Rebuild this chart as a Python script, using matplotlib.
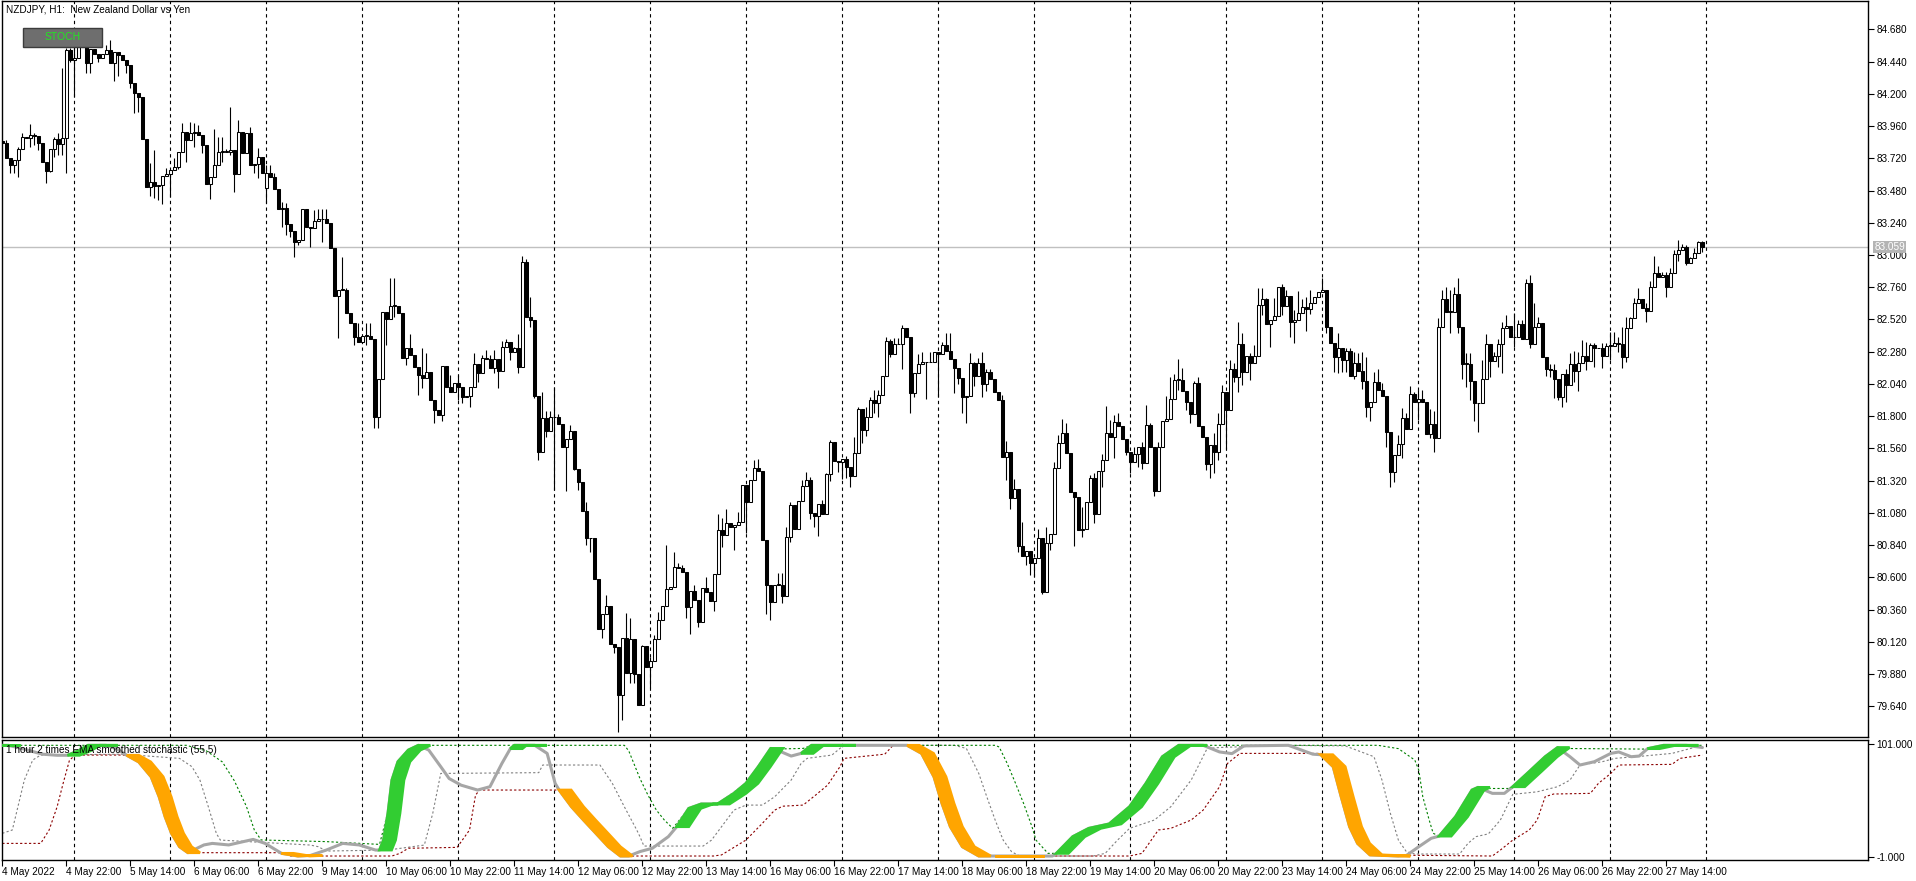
import numpy as np
import matplotlib
matplotlib.use("Agg")
import matplotlib.pyplot as plt
from matplotlib.patches import Rectangle, Polygon

W, H = 1916, 881

# ---- NZDJPY H1 closes, bar 0 = 4 May 06:00 ... bar 425 = 27 May 23:00 ----
close = [
    83.831, 83.725, 83.670, 83.707, 83.789, 83.876, 83.869, 83.896, 83.886, 83.831,
    83.695, 83.628, 83.787, 83.864, 83.824, 83.869, 84.526, 84.452, 84.464, 84.551,
    84.551, 84.427, 84.534, 84.496, 84.469, 84.496, 84.526, 84.427, 84.514, 84.489,
    84.452, 84.415, 84.278, 84.204, 84.174, 83.861, 83.509, 83.546, 83.514, 83.521,
    83.591, 83.601, 83.633, 83.658, 83.769, 83.918, 83.856, 83.906, 83.918, 83.893,
    83.819, 83.529, 83.583, 83.670, 83.769, 83.769, 83.769, 83.782, 83.603, 83.913,
    83.762, 83.906, 83.670, 83.678, 83.732, 83.608, 83.608, 83.583, 83.494, 83.343,
    83.352, 83.228, 83.179, 83.099, 83.112, 83.343, 83.211, 83.204, 83.256, 83.266,
    83.271, 83.236, 83.050, 82.697, 82.740, 82.740, 82.571, 82.491, 82.392, 82.355,
    82.397, 82.397, 82.372, 81.797, 82.075, 82.578, 82.521, 82.620, 82.620, 82.571,
    82.231, 82.305, 82.256, 82.169, 82.107, 82.082, 82.132, 81.921, 81.846, 81.809,
    82.174, 82.020, 81.982, 82.045, 82.020, 81.940, 81.950, 82.020, 82.186, 82.119,
    82.231, 82.228, 82.161, 82.226, 82.139, 82.317, 82.350, 82.280, 82.305, 82.164,
    82.950, 82.541, 82.516, 81.953, 81.531, 81.784, 81.692, 81.791, 81.796, 81.739,
    81.568, 81.630, 81.692, 81.409, 81.308, 81.092, 80.891, 80.896, 80.585, 80.213,
    80.325, 80.387, 80.104, 80.079, 79.722, 80.151, 79.886, 80.139, 79.881, 79.648,
    80.089, 79.935, 79.978, 80.139, 80.283, 80.387, 80.511, 80.526, 80.675, 80.672,
    80.638, 80.382, 80.499, 80.432, 80.270, 80.518, 80.494, 80.424, 80.623, 80.953,
    80.916, 81.007, 80.978, 80.990, 81.015, 81.288, 81.164, 81.325, 81.417, 81.392,
    80.878, 80.543, 80.419, 80.543, 80.543, 80.464, 80.898, 81.139, 80.960, 81.169,
    81.280, 81.325, 81.082, 81.059, 81.144, 81.074, 81.370, 81.610, 81.469, 81.461,
    81.479, 81.424, 81.357, 81.523, 81.853, 81.697, 81.796, 81.920, 81.896, 81.958,
    82.099, 82.360, 82.263, 82.335, 82.337, 82.454, 82.387, 81.970, 82.124, 82.188,
    82.206, 82.201, 82.206, 82.275, 82.260, 82.330, 82.288, 82.226, 82.156, 82.087,
    81.945, 81.950, 82.193, 82.099, 82.193, 82.040, 82.131, 82.077, 81.978, 81.920,
    81.499, 81.531, 81.193, 81.255, 80.836, 80.762, 80.796, 80.705, 80.742, 80.891,
    80.489, 80.853, 80.920, 81.417, 81.598, 81.672, 81.523, 81.238, 81.196, 80.953,
    80.958, 81.164, 81.342, 81.069, 81.394, 81.474, 81.672, 81.647, 81.754, 81.727,
    81.628, 81.536, 81.461, 81.518, 81.568, 81.449, 81.734, 81.568, 81.245, 81.568,
    81.764, 81.777, 81.925, 82.069, 82.069, 81.990, 81.908, 81.814, 82.044, 81.729,
    81.647, 81.442, 81.585, 81.531, 81.739, 81.982, 81.846, 82.149, 82.094, 82.335,
    82.131, 82.248, 82.193, 82.248, 82.628, 82.670, 82.486, 82.516, 82.546, 82.759,
    82.623, 82.695, 82.504, 82.516, 82.571, 82.610, 82.595, 82.640, 82.690, 82.722,
    82.739, 82.466, 82.342, 82.238, 82.310, 82.218, 82.285, 82.101, 82.193, 82.139,
    82.064, 81.866, 81.908, 82.052, 81.995, 81.950, 81.685, 81.382, 81.511, 81.593,
    81.784, 81.705, 81.963, 81.908, 81.925, 81.908, 81.665, 81.742, 81.635, 82.466,
    82.670, 82.578, 82.578, 82.710, 82.461, 82.188, 82.188, 82.064, 81.896, 81.896,
    82.074, 82.335, 82.213, 82.248, 82.335, 82.454, 82.471, 82.387, 82.392, 82.484,
    82.372, 82.789, 82.337, 82.466, 82.491, 82.238, 82.149, 82.144, 82.074, 81.940,
    82.114, 82.032, 82.188, 82.139, 82.198, 82.248, 82.213, 82.330, 82.310, 82.305,
    82.248, 82.322, 82.322, 82.347, 82.337, 82.243, 82.454, 82.528, 82.640, 82.670,
    82.603, 82.585, 82.759, 82.863, 82.834, 82.851, 82.759, 82.863, 83.005, 83.037,
    83.062, 82.943, 82.975, 83.017, 83.094, 83.059,
]
# opens differ from the previous close only here
open_gap = {0: 83.850, 66: 83.496}

# visible wick tips (bar -> price)
wick_hi = {
    0: 83.856, 1: 83.856, 4: 83.802, 5: 83.906, 7: 83.975, 8: 83.906, 13: 83.876, 14: 83.906,
    15: 84.390, 16: 84.539, 17: 84.539, 18: 84.576, 19: 84.601, 26: 84.563, 27: 84.601,
    37: 83.682, 38: 83.782, 41: 83.645, 43: 83.720, 45: 83.980, 47: 83.993, 48: 83.980,
    49: 83.968, 53: 83.935, 54: 83.876, 55: 83.876, 56: 83.789, 57: 84.104, 59: 84.005,
    62: 83.955, 64: 83.794, 66: 83.670, 67: 83.670, 68: 83.613, 70: 83.392, 71: 83.387,
    78: 83.335, 79: 83.343, 80: 83.343, 81: 83.343, 85: 82.983, 86: 82.752, 89: 82.491,
    91: 82.491, 92: 82.491, 97: 82.826, 98: 82.826, 102: 82.412, 105: 82.305, 106: 82.273,
    112: 82.106, 114: 82.106, 118: 82.268, 120: 82.255, 121: 82.293, 122: 82.255, 123: 82.293,
    125: 82.362, 126: 82.372, 128: 82.317, 129: 82.409, 130: 82.992, 131: 82.968, 132: 82.685,
    135: 81.982, 136: 81.841, 137: 81.841, 138: 82.020, 139: 81.814, 142: 81.734, 146: 81.164,
    151: 80.469, 156: 80.337, 157: 80.295, 160: 80.097, 162: 80.010, 163: 80.171, 164: 80.345,
    166: 80.841, 168: 80.791, 169: 80.704, 170: 80.692, 173: 80.543, 176: 80.605, 179: 81.072,
    180: 81.039, 181: 81.106, 184: 81.089, 188: 81.474, 189: 81.479, 194: 80.630, 195: 80.635,
    196: 80.977, 197: 81.164, 200: 81.325, 201: 81.387, 202: 81.345, 205: 81.176, 206: 81.379,
    207: 81.623, 211: 81.503, 213: 81.647, 214: 81.871, 216: 81.871, 217: 81.940, 218: 81.995,
    219: 81.995, 221: 82.387, 222: 82.372, 223: 82.379, 224: 82.384, 225: 82.479, 229: 82.260,
    230: 82.275, 232: 82.280, 233: 82.280, 235: 82.355, 236: 82.417, 237: 82.417, 242: 82.268,
    243: 82.206, 244: 82.231, 245: 82.280, 246: 82.151, 247: 82.151, 250: 81.957, 251: 81.615,
    253: 81.332, 255: 81.015, 259: 80.958, 261: 80.977, 263: 81.456, 264: 81.660, 265: 81.779,
    266: 81.747, 270: 81.121, 272: 81.362, 273: 81.374, 275: 81.518, 276: 81.876, 277: 81.772,
    278: 81.809, 279: 81.821, 283: 81.573, 285: 81.605, 286: 81.883, 287: 81.747, 289: 81.610,
    291: 81.953, 292: 82.094, 293: 82.114, 294: 82.226, 295: 82.156, 298: 82.064, 299: 82.094,
    303: 81.677, 304: 81.826, 305: 82.032, 307: 82.218, 308: 82.193, 309: 82.503, 310: 82.417,
    312: 82.268, 313: 82.330, 314: 82.757, 315: 82.752, 316: 82.677, 318: 82.677, 319: 82.764,
    320: 82.781, 321: 82.739, 323: 82.590, 324: 82.732, 325: 82.670, 326: 82.690, 327: 82.739,
    330: 82.826, 334: 82.417, 336: 82.305, 337: 82.305, 338: 82.280, 339: 82.268, 340: 82.275,
    341: 82.243, 343: 82.131, 344: 82.151, 345: 82.049, 349: 81.660, 350: 81.858, 351: 81.821,
    352: 82.025, 353: 81.982, 354: 81.995, 355: 81.995, 356: 81.851, 357: 81.851, 358: 81.841,
    359: 82.528, 360: 82.739, 361: 82.764, 362: 82.739, 363: 82.764, 364: 82.826, 366: 82.268,
    367: 82.268, 370: 82.218, 371: 82.412, 373: 82.280, 374: 82.372, 375: 82.504, 376: 82.553,
    378: 82.566, 379: 82.516, 380: 82.516, 381: 82.819, 382: 82.851, 383: 82.640, 384: 82.536,
    387: 82.188, 388: 82.188, 391: 82.151, 392: 82.273, 393: 82.285, 394: 82.280, 395: 82.367,
    396: 82.355, 397: 82.347, 398: 82.347, 400: 82.342, 401: 82.342, 402: 82.429, 403: 82.429,
    404: 82.392, 405: 82.466, 406: 82.541, 407: 82.541, 408: 82.682, 409: 82.752, 411: 82.640,
    412: 82.809, 413: 82.992, 414: 82.918, 415: 82.876, 416: 82.876, 417: 82.900, 418: 83.037,
    419: 83.111, 420: 83.082, 421: 83.074, 422: 82.987, 423: 83.049, 424: 83.104, 425: 83.104,
}
wick_lo = {
    1: 83.720, 2: 83.613, 3: 83.613, 4: 83.578, 7: 83.806, 8: 83.819, 9: 83.782, 11: 83.534,
    12: 83.620, 13: 83.732, 14: 83.742, 15: 83.742, 16: 83.608, 17: 84.439, 18: 84.179,
    21: 84.357, 22: 84.357, 24: 84.439, 28: 84.298, 29: 84.333, 31: 84.357, 32: 84.241,
    33: 84.060, 34: 84.067, 37: 83.439, 38: 83.422, 39: 83.409, 40: 83.377, 42: 83.434,
    44: 83.638, 46: 83.692, 48: 83.806, 50: 83.757, 52: 83.419, 55: 83.695, 57: 83.744,
    58: 83.471, 63: 83.608, 64: 83.571, 66: 83.390, 70: 83.211, 71: 83.149, 72: 83.137,
    73: 82.988, 74: 83.075, 77: 83.062, 80: 83.094, 84: 82.380, 88: 82.330, 91: 82.330,
    93: 81.710, 94: 81.710, 96: 82.330, 98: 82.541, 101: 82.181, 104: 81.958, 105: 82.007,
    108: 81.747, 110: 81.764, 114: 81.920, 115: 81.901, 117: 81.871, 119: 82.057, 123: 82.119,
    124: 82.012, 127: 82.218, 129: 82.119, 132: 82.461, 133: 81.933, 134: 81.474, 136: 81.647,
    138: 81.250, 141: 81.245, 143: 81.399, 144: 81.250, 146: 80.841, 147: 80.791, 150: 80.146,
    153: 80.035, 154: 79.451, 155: 79.538, 157: 79.811, 158: 79.811, 162: 79.774, 171: 80.295,
    172: 80.178, 174: 80.233, 178: 80.350, 180: 80.829, 183: 80.804, 186: 80.928, 191: 80.327,
    192: 80.283, 195: 80.407, 197: 80.866, 202: 81.035, 203: 80.977, 204: 80.910, 207: 81.317,
    209: 81.387, 210: 81.330, 211: 81.342, 212: 81.275, 215: 81.598, 216: 81.655, 218: 81.821,
    219: 81.791, 222: 82.243, 225: 82.149, 227: 81.821, 228: 81.945, 231: 81.925, 234: 81.945,
    238: 81.970, 239: 82.039, 240: 81.821, 241: 81.752, 243: 82.025, 245: 81.945, 246: 81.990,
    251: 81.325, 252: 81.109, 254: 80.786, 256: 80.692, 257: 80.618, 258: 80.605, 260: 80.476,
    262: 80.804, 268: 80.836, 270: 80.898, 273: 81.007, 275: 81.270, 278: 81.486, 281: 81.511,
    282: 81.379, 284: 81.424, 285: 81.404, 288: 81.208, 294: 81.995, 296: 81.846, 297: 81.752,
    301: 81.399, 302: 81.342, 303: 81.374, 304: 81.474, 306: 81.556, 308: 82.057, 309: 81.982,
    310: 82.032, 312: 82.069, 315: 82.553, 317: 82.312, 320: 82.553, 322: 82.392, 323: 82.342,
    326: 82.437, 327: 82.561, 331: 82.417, 333: 82.131, 334: 82.119, 335: 82.131, 336: 82.131,
    338: 82.074, 340: 82.000, 341: 81.796, 342: 81.767, 346: 81.573, 347: 81.275, 348: 81.313,
    350: 81.486, 354: 81.772, 357: 81.635, 358: 81.536, 362: 82.417, 364: 82.417, 365: 82.074,
    366: 82.015, 367: 81.920, 368: 81.767, 369: 81.685, 372: 82.089, 374: 82.169, 375: 82.119,
    378: 82.317, 382: 82.305, 386: 82.099, 387: 82.094, 388: 81.933, 389: 81.920, 390: 81.871,
    391: 81.908, 393: 82.057, 394: 81.990, 396: 82.144, 398: 82.169, 400: 82.156, 402: 82.218,
    404: 82.280, 405: 82.156, 406: 82.206, 411: 82.504, 416: 82.685, 419: 82.958, 421: 82.925,
    425: 83.020,
}
last_price = 83.059

price_ticks = [84.68, 84.44, 84.20, 83.96, 83.72, 83.48, 83.24, 83.00, 82.76, 82.52, 82.28,
               82.04, 81.80, 81.56, 81.32, 81.08, 80.84, 80.60, 80.36, 80.12, 79.88, 79.64]

time_labels = ["4 May 2022", "4 May 22:00", "5 May 14:00", "6 May 06:00", "6 May 22:00",
               "9 May 14:00", "10 May 06:00", "10 May 22:00", "11 May 14:00", "12 May 06:00",
               "12 May 22:00", "13 May 14:00", "16 May 06:00", "16 May 22:00", "17 May 14:00",
               "18 May 06:00", "18 May 22:00", "19 May 14:00", "20 May 06:00", "20 May 22:00",
               "23 May 14:00", "24 May 06:00", "24 May 22:00", "25 May 14:00", "26 May 06:00",
               "26 May 22:00", "27 May 14:00"]
label_bars = [16 * k for k in range(len(time_labels))]
day_starts = [18 + 24 * k for k in range(18)]

# ---- stochastic window (bar, value) ----
stoch = [
    (0, 100), (1.5, 100), (5, 97), (10, 92), (13.7, 91), (16.3, 91), (19, 95), (21.4, 100),
    (25.9, 100), (28.5, 97), (31.1, 91), (34.1, 85), (37.2, 71.6), (39.2, 53.6), (40.7, 35.5),
    (42.3, 20.5), (44.3, 8.4), (46.4, 3), (50.4, 10), (52.5, 11.4), (56.6, 10), (62.7, 15),
    (65.7, 11.4), (69.8, 2.4), (73.9, 0), (77, 0.5), (81, 5.4), (85.1, 11.4), (89.2, 10),
    (93.3, 5.4), (94.3, 5.4), (95.3, 14.4), (96.4, 38.5), (97.4, 68.6), (98.9, 85.2),
    (101.5, 95.7), (104, 100), (106.6, 95.7), (109.6, 80.7), (111.7, 70), (114.7, 64),
    (118.8, 59.6), (121.9, 62.6), (124.9, 83.7), (127, 97), (128, 100), (133.1, 100),
    (136.2, 92.7), (138.2, 65.6), (139.2, 59.6), (142.3, 44.5), (145.3, 32.5), (148.4, 20.5),
    (151.5, 8.4), (154.5, 0), (156.6, 0), (159.4, 4), (162.5, 7), (166.5, 17.5), (168.6, 26.5),
    (171.6, 43), (174.7, 47), (178.8, 47), (182.9, 56.6), (185.9, 65.6), (189, 80.7),
    (192.1, 97.2), (193.1, 96.6), (197.2, 90.3), (199.7, 92.7), (202.3, 100), (210.4, 100),
    (226.2, 100), (229.8, 92.7), (232.9, 71.6), (234.9, 47.6), (237, 26.5), (240, 8.4),
    (244.1, 0), (248.2, 0), (257.4, 0), (262.5, 0), (263.5, 2.4), (267.6, 17.5), (271.6, 25),
    (276.7, 29), (281.8, 44.5), (285.9, 65.6), (290, 89.7), (294.1, 100), (298.2, 100),
    (300.2, 100), (304.3, 94), (307.4, 92.5), (310.4, 99.5), (321.5, 100), (327.6, 92),
    (329.6, 91.5), (332.7, 80.7), (334.7, 53.6), (336.8, 26.5), (338.8, 11.4), (341.9, 1),
    (349, 0), (351, 0.5), (354.1, 8.4), (357.2, 16), (359.2, 18), (363.3, 35.5), (367.4, 59.6),
    (368.9, 62), (372.5, 56.6), (375.5, 56.6), (377.6, 62.6), (381.7, 76.2), (385.7, 89.7),
    (388.8, 98), (391.9, 89.7), (394.4, 82.2), (398, 85.2), (402.1, 92.7), (404.1, 94),
    (407.2, 89.7), (409.2, 90.3), (411.3, 97), (415.3, 100), (421, 100), (425, 98),
]
green_bands = [(0, 1.5), (16.3, 25.9), (94.3, 104), (127, 133.1), (168.6, 192.1), (199.7, 210.4),
               (263.5, 298.2), (359.2, 368.9), (377.6, 388.8), (411.3, 421)]
orange_bands = [(31.1, 46.4), (69.8, 77), (139.2, 154.5), (226.2, 244.1), (248.2, 257.4),
                (329.6, 349)]

green_dash = [
    (0, 100), (46, 100), (51, 95), (55, 85), (58, 68), (61, 45), (63, 23.5), (64.7, 14.5),
    (81, 13), (94.3, 10.5), (96.4, 40), (98.9, 85), (101.5, 96), (104, 100), (155.5, 100),
    (156.6, 95), (159.4, 70), (161.4, 55), (163.5, 41.5), (165.5, 32.5), (167.6, 25),
    (171.6, 43), (178.8, 47), (185.9, 65.6), (192.1, 97), (193.1, 96.6), (200.2, 97.2),
    (202.3, 100), (248.2, 100), (249.2, 98.5), (251.2, 83.7), (253.3, 65.6), (255.3, 47.6),
    (257.4, 26.5), (258.4, 14.4), (261.4, 2.4), (263.5, 2.4), (267.6, 17.5), (271.6, 25),
    (276.7, 29), (281.8, 44.5), (285.9, 65.6), (290, 89.7), (294.1, 100), (343.9, 100),
    (349, 97), (353.1, 86.7), (354.1, 77.6), (355.1, 53.6), (356.7, 32.5), (357.7, 20.5),
    (359.2, 18), (363.3, 35.5), (367.4, 59.6), (368.9, 61), (377.6, 61), (381.7, 76.2),
    (385.7, 89.7), (388.8, 97.2), (410.2, 96.6), (411.3, 97), (415.3, 100), (425, 100),
]
gray_dash = [
    (0, 20.5), (2.5, 23.5), (3.5, 38.5), (5.5, 68.6), (7.6, 86.7), (9.6, 91.2), (30, 92),
    (44.3, 88.2), (47.4, 80.7), (49.4, 68.6), (51.5, 44.5), (53.5, 20.5), (54.5, 14.4),
    (77, 9.9), (79, 8.4), (81, 4.5), (96.4, 5.4), (105.5, 9.9), (107.6, 38.5), (109.6, 74.6),
    (134.1, 75.3), (135.1, 82.2), (149.4, 82.2), (152.5, 65.6), (155.5, 44.5), (158.6, 23.5),
    (159.4, 17.5), (160.4, 9), (175.2, 9), (177.3, 14.4), (179.8, 26.5), (182.9, 41.5),
    (185.9, 46), (190, 46), (193.1, 53.6), (197.2, 68.6), (199.7, 83.7), (201.2, 88.2),
    (207.4, 91.2), (209.9, 98.7), (211.4, 100), (238, 100), (241, 97.2), (244.1, 74.6),
    (246.1, 53.6), (248.2, 32.5), (250.2, 14.4), (252.3, 3.9), (254.3, 0), (272.7, 0),
    (275.7, 2.4), (278.8, 14.4), (281.8, 25), (288, 32.5), (292.1, 44.5), (297.2, 68.6),
    (301.2, 97.2), (304.3, 98), (319.4, 100), (335.7, 99.5), (342.9, 89.7), (344.9, 68.6),
    (347, 38.5), (349, 14.4), (351, 3.9), (353.1, 1.8), (364.3, 1.8), (366.4, 11.4),
    (368.4, 17.5), (371.5, 20), (374.5, 32.5), (377.6, 55.7), (383.7, 58), (388.8, 62.6),
    (391.9, 68.6), (394.4, 82.2), (400, 85.2), (403.1, 88.2), (410.2, 90.3), (417.4, 92.7),
    (425, 100),
]
red_dash = [
    (0, 11.4), (9.6, 11.4), (11.7, 23.5), (13.7, 44.5), (15.2, 65.6), (16.8, 86.7), (18.3, 91.2),
    (31.1, 91.2), (34.1, 86), (37.2, 73), (39.2, 55), (40.7, 37), (42.3, 22), (44.3, 9.5),
    (46.4, 3), (70.8, 3), (71.9, 0), (97.4, 0), (99.4, 2.4), (101.5, 7), (113.7, 7.8),
    (116.8, 23.5), (118.3, 55), (119.3, 59.6), (139.2, 59.6), (142.3, 45.5), (145.3, 33.5),
    (148.4, 21.5), (151.5, 9.4), (154.5, 0), (177.8, 0), (179.8, 1), (185.9, 14.4), (190, 29.5),
    (193.1, 41.5), (195.1, 45), (200.2, 46), (203.3, 55), (206.3, 64), (209.4, 80.7),
    (210.4, 88.2), (220.6, 92), (222.7, 100), (225.7, 100), (229.8, 93.5), (232.9, 72.5),
    (234.9, 48.5), (237, 27.5), (240, 9.4), (244.1, 0), (281.8, 0), (284.9, 2.4), (289, 23.5),
    (292.1, 25), (297.2, 32.5), (300.2, 41.5), (304.3, 62.6), (306.3, 83.7), (309.4, 92.7),
    (329.6, 92.7), (332.7, 83.7), (334.7, 54.5), (336.8, 27.5), (338.8, 12.4), (341.9, 1),
    (372.5, 0), (374.5, 5.4), (377.6, 14.4), (381.7, 23.5), (383.7, 32.5), (385.7, 53.6),
    (387.8, 56), (397, 56.6), (399, 65.6), (402.1, 74.6), (404.1, 82.2), (417.4, 82.8),
    (419.4, 88.2), (425, 91.2),
]

plt.rcParams['font.family'] = ['Liberation Sans', 'DejaVu Sans']
plt.rcParams['font.size'] = 7.2


def fx(px):
    return px / W


def fy(py):
    return 1 - py / H


fig = plt.figure(figsize=(W / 100, H / 100), dpi=100)
ax = fig.add_axes([fx(2), fy(737), fx(1866), (737 - 1) / H])
ax2 = fig.add_axes([fx(2), fy(860), fx(1866), (860 - 740) / H])

xlim = (-0.08, 466.4)

# ---- candles ----
n = len(close)
x = np.arange(n)
c = np.array(close)
o = np.array([open_gap.get(i, close[i - 1] if i else close[0]) for i in range(n)])
hi = np.array([max(o[i], c[i], wick_hi.get(i, 0)) for i in range(n)])
lo = np.array([min(o[i], c[i], wick_lo.get(i, 1e9)) for i in range(n)])
bull = c >= o
body_lo = np.minimum(o, c)
body_h = np.maximum(np.abs(c - o), 0.005)

ax.vlines(x, lo, hi, color='black', lw=0.8, zorder=2)
ax.bar(x[bull], body_h[bull], bottom=body_lo[bull], width=0.6, facecolor='white',
       edgecolor='black', linewidth=0.75, zorder=3)
ax.bar(x[~bull], body_h[~bull], bottom=body_lo[~bull], width=0.6, facecolor='black',
       edgecolor='black', linewidth=0.75, zorder=3)

ax.axhline(last_price, color='#c0c0c0', lw=1, zorder=1)
ax.set_xlim(*xlim)
ax.set_ylim(79.411, 84.891)

ax.yaxis.tick_right()
ax.set_yticks(price_ticks)
ax.set_yticklabels([f"{p:.3f}" for p in price_ticks])
ax.tick_params(axis='y', direction='out', length=4, width=0.8, pad=2)
ax.tick_params(axis='x', bottom=False, labelbottom=False)
ax.text(1.0035, last_price, f"{last_price:.3f}", transform=ax.get_yaxis_transform(),
        ha='left', va='center', color='white', fontsize=7.2, zorder=10, clip_on=False,
        bbox=dict(boxstyle='square,pad=0.12', fc='#b4b4b4', ec='none'))

# ---- indicator ----
def xy(pts):
    a = np.array(pts, dtype=float)
    return a[:, 0], a[:, 1]


for pts, col in ((gray_dash, '#808080'), (red_dash, '#8b0000'), (green_dash, '#008000')):
    ax2.plot(*xy(pts), color=col, lw=0.8, ls=(0, (2, 2)), zorder=2)

sx, sv = xy(stoch)
ax2.plot(sx, sv, color='#a6a6a6', lw=2.2, zorder=3, solid_capstyle='round')
lag = 3.0
for bands, col in ((green_bands, '#32cd32'), (orange_bands, '#ffa500')):
    for a, b in bands:
        m = (sx >= a - 1e-6) & (sx <= b + 1e-6)
        px, pv = sx[m], sv[m]
        poly = np.column_stack([np.r_[px, (px + lag)[::-1]], np.r_[pv, pv[::-1]]])
        ax2.add_patch(Polygon(poly, closed=True, facecolor=col, edgecolor=col, lw=2.0, zorder=4))

ax2.set_xlim(*xlim)
ax2.set_ylim(-3.6, 104.8)
ax2.yaxis.tick_right()
ax2.set_yticks([101, -1])
ax2.set_yticklabels(["101.000", "-1.000"])
ax2.tick_params(axis='y', direction='out', length=4, width=0.8, pad=2)
ax2.set_xticks(label_bars)
ax2.set_xticklabels(time_labels, ha='left')
ax2.tick_params(axis='x', direction='out', length=4, width=0.8, pad=1)

for a_ in (ax, ax2):
    for d in day_starts:
        a_.axvline(d, color='black', lw=0.8, ls=(0, (3, 3)), zorder=1)
    for s in a_.spines.values():
        s.set_color('black')
        s.set_linewidth(1)

# ---- texts / button ----
fig.text(fx(6), fy(10), "NZDJPY, H1:  New Zealand Dollar vs Yen", ha='left', va='center')
ax2.text(0.002, 0.92, "1 hour 2 times EMA smoothed stochastic (55,5)", transform=ax2.transAxes,
         ha='left', va='center', zorder=8)
fig.add_artist(Rectangle((fx(23), fy(47)), 79 / W, 19 / H, transform=fig.transFigure,
                         facecolor='#6e6e6e', edgecolor='#3c3c3c', lw=1))
fig.text(fx(62.5), fy(37.5), "STOCH", color='#22e622', ha='center', va='center', fontsize=7.5)

fig.savefig('out.png', dpi=100)
